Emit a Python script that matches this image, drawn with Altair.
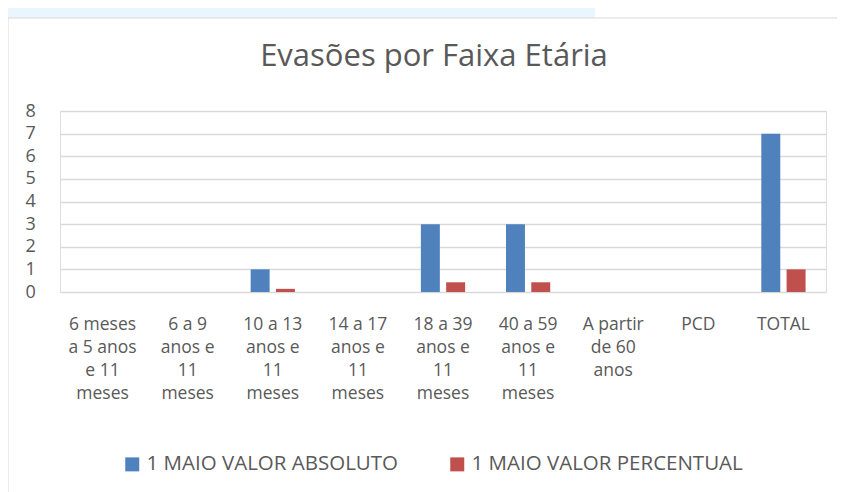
import altair as alt
import pandas as pd

categories = [
    "6 meses\na 5 anos\ne 11\nmeses",
    "6 a 9\nanos e\n11\nmeses",
    "10 a 13\nanos e\n11\nmeses",
    "14 a 17\nanos e\n11\nmeses",
    "18 a 39\nanos e\n11\nmeses",
    "40 a 59\nanos e\n11\nmeses",
    "A partir\nde 60\nanos",
    "PCD",
    "TOTAL",
]
series_names = ["1 MAIO VALOR ABSOLUTO", "1 MAIO VALOR PERCENTUAL"]
absoluto = [0, 0, 1, 0, 3, 3, 0, 0, 7]
percentual = [0, 0, 0.14, 0, 0.43, 0.43, 0, 0, 1]
y_ticks = [0, 1, 2, 3, 4, 5, 6, 7, 8]

rows = []
for c, a, p in zip(categories, absoluto, percentual):
    rows.append({"cat": c, "serie": series_names[0], "valor": a})
    rows.append({"cat": c, "serie": series_names[1], "valor": p})
df = pd.DataFrame(rows)

FONT = "Open Sans"
TXT = "#595959"

bars = alt.Chart(df).mark_bar().encode(
    x=alt.X("cat:N", sort=categories, title=None,
            scale=alt.Scale(paddingInner=0.48, paddingOuter=0.24),
            axis=alt.Axis(labelExpr="split(datum.label, '\\n')", labelAngle=0,
                          labelAlign="center", labelBaseline="top",
                          labelPadding=23, labelLineHeight=23, ticks=False,
                          domain=False, grid=False, labelFontSize=17.5,
                          labelColor=TXT, labelFont=FONT, labelLimit=0)),
    xOffset=alt.XOffset("serie:N", sort=series_names,
                        scale=alt.Scale(paddingInner=0.25, paddingOuter=0)),
    y=alt.Y("valor:Q", title=None,
            scale=alt.Scale(domain=[0, 8], nice=False),
            axis=alt.Axis(values=y_ticks, ticks=False, domain=False,
                          gridColor="#D9D9D9", gridWidth=1.5,
                          labelFontSize=18, labelColor=TXT, labelFont=FONT,
                          labelPadding=35, labelAlign="left")),
    color=alt.Color("serie:N", sort=series_names,
                    scale=alt.Scale(domain=series_names, range=["#4F81BD", "#C0504D"]),
                    legend=alt.Legend(title=None, orient="none", direction="horizontal",
                                      legendX=62, legendY=343, symbolType="square",
                                      symbolSize=196, symbolStrokeWidth=0,
                                      labelFontSize=20.5, labelColor=TXT, labelFont=FONT,
                                      labelLimit=0, columnPadding=48, labelOffset=4)),
)

border = alt.Chart(pd.DataFrame({"k": [0]})).mark_rect(
    fillOpacity=0, stroke="#D9D9D9", strokeWidth=1
).encode(x=alt.value(-52), x2=alt.value(800), y=alt.value(-93), y2=alt.value(420))

topband = alt.Chart(pd.DataFrame({"k": [0]})).mark_rect(
    fill="#E9F6FD"
).encode(x=alt.value(-60), x2=alt.value(535), y=alt.value(-111), y2=alt.value(-93))

chart = alt.layer(topband, border, bars).properties(
    width=766, height=181,
    autosize=alt.AutoSizeParams(type="none"),
    padding={"left": 52, "top": 103, "right": 11, "bottom": 200},
    title=alt.TitleParams("Evasões por Faixa Etária", fontSize=31, font=FONT,
                          fontWeight="normal", color=TXT, anchor="middle",
                          offset=0, dy=73, dx=-9),
).configure_view(stroke=None).configure(background="white")

chart.save("out.html", embed_options={"renderer": "svg", "actions": False})
